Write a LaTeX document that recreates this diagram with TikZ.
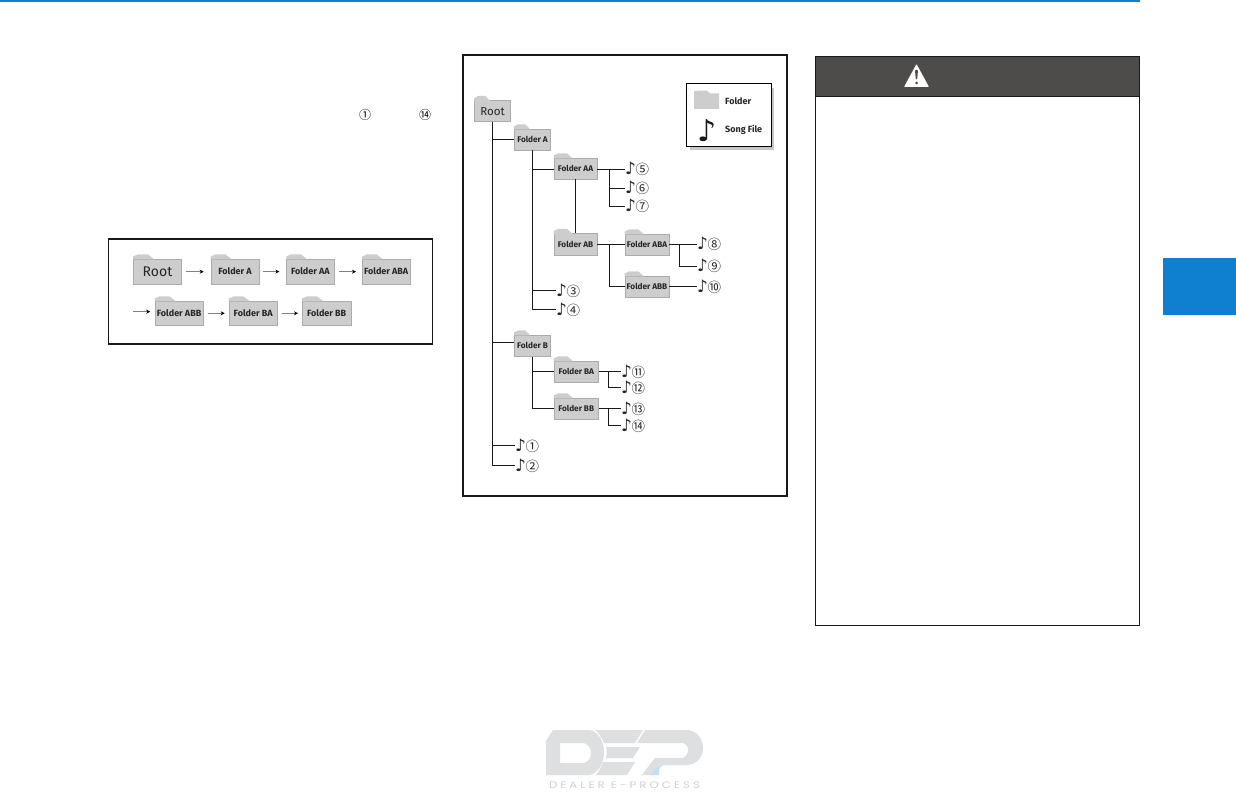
\documentclass[tikz,border=0pt]{standalone}
\usepackage{fontspec}
\setmainfont{Fira Sans}
\newfontfamily\lblfont{Fira Sans}
\newfontfamily\symfont{DejaVu Sans}
\newfontfamily\circfont{Noto Sans CJK SC}
\newfontfamily\wordfont[LetterSpace=25]{Poppins}
\usetikzlibrary{arrows.meta}
\definecolor{folderfill}{HTML}{CDCDCD}
\definecolor{folderedge}{HTML}{ABABAB}
\definecolor{hdr}{HTML}{4E4B4B}
\definecolor{blue1}{HTML}{0F80D0}
\definecolor{logogray}{HTML}{DEDFE0}
\tikzset{
  folder/.style={fill=folderfill,draw=folderedge,line width=0.6pt,inner sep=0pt,font=\lblfont\bfseries\fontsize{8.2}{9}\selectfont,text=black!85},
  lfolder/.style={folder,font=\lblfont\bfseries\fontsize{9}{10}\selectfont},
  rootfolder/.style={folder,font=\lblfont\fontsize{11.5}{13}\selectfont},
  lrootfolder/.style={folder,font=\lblfont\fontsize{14}{15}\selectfont},
  link/.style={line width=1pt,black!90},
  frame/.style={draw=black!90,line width=1.5pt,fill=white},
  notenode/.style={inner sep=0pt,anchor=west,text height=11pt,text depth=0pt,text=black!85},
  flow/.style={line width=1pt,black!50,-{Stealth[black,length=4pt,width=4pt]}},
}
\newcommand{\fld}[7][folder]{% style, name, x0,x1,ybody,ybot,label
  \node[#1,minimum width={(#4-#3)*1pt},minimum height={(#6-#5)*1pt}] (#2) at ({(#3+#4)/2},{(#5+#6)/2}) {#7};
  \fill[folderfill] ({#3-0.3},{#5+0.3}) -- ({#3-0.3},{#5-2.5}) -- ({#3+0.1*(#4-#3)},{#5-4.7}) -- ({#3+0.3*(#4-#3)},{#5-4.7}) -- ({#3+0.43*(#4-#3)},{#5+0.3}) -- cycle;
}
\newcommand{\songtxt}[1]{{\symfont\fontsize{17}{18}\selectfont ♪}\kern-0.5pt{\circfont\fontsize{13.5}{14}\selectfont #1}}
\begin{document}
\begin{tikzpicture}[x=1pt,y=-1pt]
\useasboundingbox (0,0) rectangle (1236,794);
\fill[white] (0,0) rectangle (1236,794);
% top rule and side tab
\fill[blue1] (0,0) rectangle (1140,2);
\fill[blue1] (1163,258) rectangle (1236,315);
% text references
\node[inner sep=0pt,font=\circfont\fontsize{12}{13}\selectfont] (ca) at (365,115) {①};
\node[inner sep=0pt,font=\circfont\fontsize{12}{13}\selectfont] (cb) at (425,115) {⑭};
% left frame
\draw[frame] (108.5,239) rectangle (432.5,344);
\fld[lrootfolder]{lroot}{133.3}{181.7}{259}{284.3}{Root}
\fld[lfolder]{la}{211}{259}{259}{284.3}{Folder A}
\fld[lfolder]{laa}{286.7}{334}{259}{284.3}{Folder AA}
\fld[lfolder]{laba}{362.3}{410}{259}{284.3}{Folder ABA}
\fld[lfolder]{labb}{155}{203.3}{301}{325.7}{Folder ABB}
\fld[lfolder]{lba}{229}{277.3}{301}{325.7}{Folder BA}
\fld[lfolder]{lbb}{302.3}{351}{301}{325.7}{Folder BB}
\coordinate (lstart) at (133.3,311.7);
\draw[flow,shorten <=4pt,shorten >=7pt] (lroot.east) -- (la.west);
\draw[flow,shorten <=4pt,shorten >=7pt] (la.east) -- (laa.west);
\draw[flow,shorten <=5pt,shorten >=6pt] (laa.east) -- (laba.west);
\draw[flow,shorten >=4.5pt] (lstart) -- (lstart -| labb.west);
\draw[flow,shorten <=4pt,shorten >=4pt] (labb.east) -- (lba.west);
\draw[flow,shorten <=4pt,shorten >=4pt] (lba.east) -- (lbb.west);
% tree frame
\draw[frame] (463,55) rectangle (787,496);
% legend
\fill[black!22] (690,88) rectangle (774,150);
\draw[draw=black,line width=1pt,fill=white] (686,83.5) rectangle (771,146.5);
\fill[folderfill] (694,109) -- (694,91) -- (699,90.7) -- (707,90.7) -- (710,93.3) -- (719,93.3) -- (719,109) -- cycle;
\node[inner sep=0pt,anchor=west,font=\lblfont\bfseries\fontsize{9}{10}\selectfont,text=black!85] (lgft) at (725,101) {Folder};
\node[inner sep=0pt,font=\symfont\fontsize{30}{31}\selectfont,text=black!90] (lgn) at (707.5,131) {♪};
\node[inner sep=0pt,anchor=west,font=\lblfont\bfseries\fontsize{9}{10}\selectfont,text=black!85] (lgnt) at (725,130) {Song File};
% tree folders
\fld[rootfolder]{root}{474.5}{510.5}{100.7}{121.7}{Root}
\fld{fa}{514.5}{550.5}{129}{150}{Folder A}
\fld{faa}{554}{597}{158}{179}{Folder AA}
\fld{fab}{554}{597}{233.5}{255.5}{Folder AB}
\fld{faba}{625}{669}{234}{255}{Folder ABA}
\fld{fabb}{625}{669}{276}{297}{Folder ABB}
\fld{fb}{514.5}{550.5}{335}{356.7}{Folder B}
\fld{fba}{554}{598.5}{361}{382}{Folder BA}
\fld{fbb}{554}{598.5}{398}{419}{Folder BB}
% song notes
\foreach \n/\x/\y/\t in {n1/515/445.5/①,n2/515/465.5/②,n3/556/290.5/③,n4/556/309.5/④,n5/625/169.5/⑤,n6/625/188.5/⑥,n7/625/206.5/⑦,n8/697/244.5/⑧,n9/697/266.5/⑨,n10/697/286.5/⑩,n11/621/371.5/⑪,n12/621/387.5/⑫,n13/621/408.5/⑬,n14/621/425.5/⑭}{
  \node[notenode] (\n) at (\x,\y) {\songtxt{\t}};
}
% connectors
\draw[link] (root.south) |- (fa.west);
\draw[link] (root.south) |- ([yshift=3pt]fb.west);
\draw[link] (root.south) |- (n1.west);
\draw[link] (root.south) |- (n2.west);
\draw[link] (fa.south) |- ([yshift=-1pt]faa.west);
\draw[link] (fa.south) |- (n3.west);
\draw[link] (fa.south) |- (n4.west);
\draw[link] (faa.south) -- (faa.south |- fab.north);
\coordinate (j1) at (609.5,169.5);
\draw[link] ([yshift=-1pt]faa.east) -- (n5.west);
\draw[link] (j1) |- (n6.west);
\draw[link] (j1) |- (n7.west);
\draw[link] (fab.east) -- (faba.west);
\coordinate (j2) at (609.5,244.5);
\draw[link] (j2) |- (fabb.west);
\draw[link] (faba.east) -- (n8.west);
\coordinate (j3) at (679,244.5);
\draw[link] (j3) |- (n9.west);
\draw[link] (fabb.east) -- (n10.west);
\draw[link] (fb.south) |- (fba.west);
\draw[link] (fb.south) |- (fbb.west);
\draw[link] (fba.east) -- (n11.west);
\coordinate (j4) at (608.5,371.5);
\draw[link] (j4) |- (n12.west);
\draw[link] (fbb.east) -- (n13.west);
\coordinate (j5) at (608.5,408.5);
\draw[link] (j5) |- (n14.west);
% warning box
\draw[draw=black!90,line width=1pt,fill=white] (815.5,56.5) rectangle (1139.5,625);
\draw[draw=black!90,line width=1pt,fill=hdr] (815.5,56.5) rectangle (1139.5,97);
\fill[white,rounded corners=0.8pt] (916.5,64) -- (929,87) -- (904,87) -- cycle;
\fill[hdr,rounded corners=0.8pt] (915,70) -- (918,70) -- (917.2,79.5) -- (915.8,79.5) -- cycle;
\fill[hdr] (916.5,83) circle (1.5);
% logo
\fill[logogray,even odd rule] (553,730) -- (590,730) .. controls (599,732) and (604,742) .. (604,752) .. controls (604,764) and (598,773) .. (590,775) -- (546,775) -- (546,741) -- cycle
  (560,743) -- (584,743) .. controls (589,745) and (591,749) .. (591,753) .. controls (591,758) and (588,762) .. (584,763) -- (560,763) -- cycle;
\fill[logogray] (595,730) -- (643,730) -- (635,743) -- (604,743) .. controls (602,738) and (599,733) .. (595,730) -- cycle;
\fill[logogray] (606,747) -- (640,747) -- (633,758) -- (606,758) .. controls (607,754) and (607,750) .. (606,747) -- cycle;
\fill[logogray] (603,762) -- (635,762) -- (627,775) -- (596,775) .. controls (599,772) and (601,767) .. (603,762) -- cycle;
\fill[logogray] (645,730) -- (688,730) .. controls (697,731) and (703,739) .. (703,748) .. controls (703,757) and (697,764) .. (688,765) -- (663,765) -- (653,775) -- (641.7,775) -- (655,758) -- (683,758) .. controls (686,757) and (688,754) .. (688,750) .. controls (688,746) and (686,744) .. (683,743) -- (637,743) -- cycle;
\fill[blue1!25] (659,765) -- (659,775) -- (650,775) -- cycle;
\node[inner sep=0pt,xscale=1.25,font=\wordfont\fontsize{9.5}{10}\selectfont,text=black!18] (logotext) at (624.5,785) {DEALER E-PROCESS};
\end{tikzpicture}
\end{document}
